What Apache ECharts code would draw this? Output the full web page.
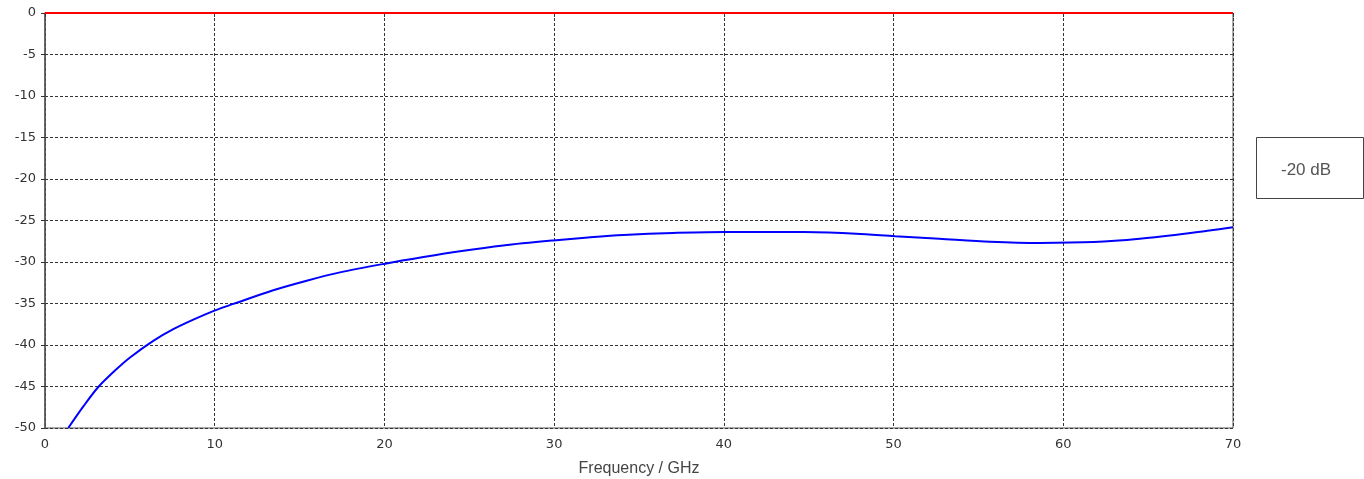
<!DOCTYPE html>
<html><head><meta charset="utf-8">
<script src="https://cdn.jsdelivr.net/npm/echarts@6/dist/echarts.min.js"></script>
<style>html,body{margin:0;padding:0;background:#fff}#c{width:1364px;height:479px}</style>
</head><body><div id="c"></div>
<script>
const freqGHz = [1.37, 2.26, 3.14, 4.22, 5.01, 6.38, 7.56, 8.74, 10.06, 11.1, 13.45, 15.42, 17.38, 20.04, 22.3, 24.45, 27.0, 29.95, 32.0, 34.08, 37.0, 39.97, 42.5, 44.7, 47.8, 50.09, 52.7, 55.7, 58.6, 61.8, 64.5, 67.5, 70.0];
const s21dB = [-50.0, -47.4, -45.06, -42.9, -41.5, -39.5, -38.1, -36.95, -35.8, -35.05, -33.4, -32.25, -31.25, -30.2, -29.4, -28.7, -28.0, -27.4, -27.05, -26.75, -26.5, -26.4, -26.38, -26.4, -26.6, -26.9, -27.2, -27.55, -27.7, -27.6, -27.2, -26.5, -25.8];
const refFreq = [0, 70];
const refdB = [0, 0];
const xTicks = [0, 10, 20, 30, 40, 50, 60, 70];
const yTicks = [0, -5, -10, -15, -20, -25, -30, -35, -40, -45, -50];
const boxLabel = '-20 dB';

const chart = echarts.init(document.getElementById('c'));
chart.setOption({
  animation: false,
  grid: {left: 45, right: 131, top: 13, bottom: 51, containLabel: false, outerBoundsMode: 'none',
    show: true, borderColor: '#555', borderWidth: 1, backgroundColor: 'transparent'},
  xAxis: {
    type: 'value', min: 0, max: 70, interval: 10,
    name: 'Frequency / GHz', nameLocation: 'middle', nameGap: 33,
    nameTextStyle: {fontFamily: 'Liberation Sans', fontSize: 16, color: '#444'},
    axisLine: {show: true, lineStyle: {color: '#333', width: 1}},
    axisTick: {show: true, length: 4, lineStyle: {color: '#333'}},
    axisLabel: {fontFamily: 'DejaVu Sans', fontSize: 13, color: '#333', margin: 10,
      formatter: v => xTicks.includes(v) ? String(v) : ''},
    splitLine: {show: true, lineStyle: {color: '#333', type: [3, 2], width: 1}}
  },
  yAxis: {
    type: 'value', min: -50, max: 0, interval: 5,
    axisLine: {show: true, lineStyle: {color: '#555', width: 1.5}},
    axisTick: {show: true, length: 4, lineStyle: {color: '#333'}},
    axisLabel: {fontFamily: 'DejaVu Sans', fontSize: 13, color: '#333', margin: 9,
      formatter: v => yTicks.includes(v) ? String(v) : ''},
    splitLine: {show: true, lineStyle: {color: '#333', type: [3, 2], width: 1}}
  },
  series: [
    {type: 'line', data: refFreq.map((f, i) => [f, refdB[i]]), symbol: 'none',
      lineStyle: {color: '#ff0000', width: 2}, z: 5, clip: false},
    {type: 'line', data: freqGHz.map((f, i) => [f, s21dB[i]]), symbol: 'none', smooth: 0.3,
      lineStyle: {color: '#0000ff', width: 2}, z: 4}
  ],
  graphic: [
    {type: 'rect', left: 1256, top: 137, shape: {width: 107, height: 61},
      style: {fill: '#fff', stroke: '#444', lineWidth: 1}},
    {type: 'text', left: 1281, top: 162, style: {text: boxLabel, fontFamily: 'Liberation Sans', fontSize: 17, fill: '#555'}}
  ]
});
</script></body></html>
